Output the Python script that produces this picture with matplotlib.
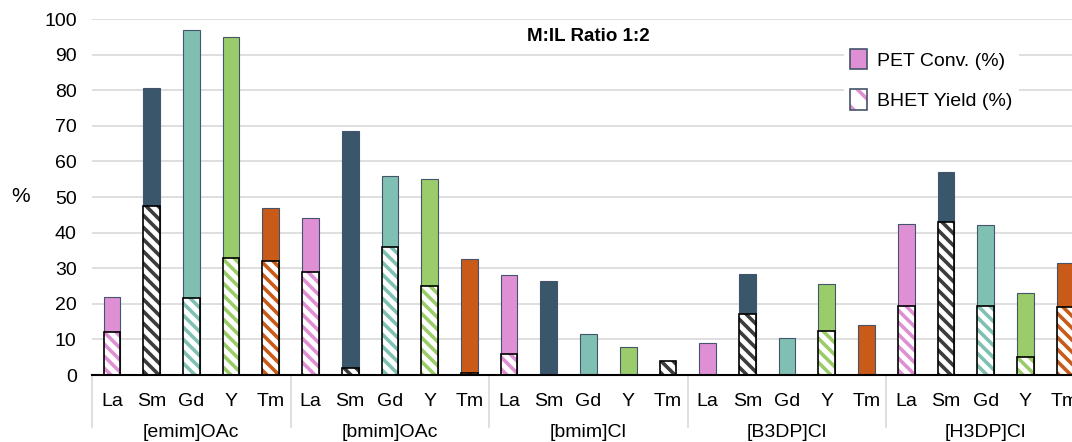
import numpy as np
import matplotlib.pyplot as plt
import matplotlib.transforms as mtransforms
from matplotlib.patches import Patch
from matplotlib.legend_handler import HandlerTuple

# drawn at 72 dpi so that the hatch spacing matches the original; sizes scaled to match
DPI = 72
S = 100 / DPI

plt.rcParams['font.family'] = ['Liberation Sans', 'DejaVu Sans']
plt.rcParams['hatch.linewidth'] = 2.6 * S

ionic_liquids = ['[emim]OAc', '[bmim]OAc', '[bmim]Cl', '[B3DP]Cl', '[H3DP]Cl']
metals = ['La', 'Sm', 'Gd', 'Y', 'Tm']

# PET conversion (%) per ionic liquid, metals in order La, Sm, Gd, Y, Tm
pet_conv = [
    [22, 80.5, 97, 95, 47],
    [44, 68.5, 56, 55, 32.5],
    [28, 26.5, 11.5, 8, 4],
    [9, 28.5, 10.5, 25.5, 14],
    [42.5, 57, 42, 23, 31.5],
]
# BHET yield (%)
bhet_yield = [
    [12, 47.5, 21.5, 33, 32],
    [29, 2, 36, 25, 0.5],
    [6, 0, 0, 0, 4],
    [0, 17, 0, 12.5, 0],
    [19.5, 43, 19.5, 5, 19],
]

metal_colors = {'La': '#DF90D5', 'Sm': '#3A566B', 'Gd': '#80C0B2', 'Y': '#9BCC6B', 'Tm': '#C95A17'}
hatch_dark = '#3C3C3C'
hatch = '\\\\'

fig = plt.figure(figsize=(1072 / DPI, 442 / DPI), dpi=DPI)
ax = fig.add_axes([92 / 1072, 67 / 442, 993 / 1072, 356 / 442])

n_metals = len(metals)
width = 0.42
for g, il in enumerate(ionic_liquids):
    for m, metal in enumerate(metals):
        x = g * n_metals + m
        pet = pet_conv[g][m]
        bhet = bhet_yield[g][m]
        col = metal_colors[metal]
        hcol = hatch_dark if metal == 'Sm' else col
        if pet > bhet:
            ax.bar(x, pet, width, color=col, edgecolor='#44546A', linewidth=0.8 * S, zorder=2)
        elif metal == 'Tm':
            hcol = hatch_dark
        if bhet > 0:
            ax.bar(x, bhet, width, color='white', edgecolor=hcol, linewidth=0,
                   hatch=hatch, zorder=3)
            ax.bar(x, bhet, width, fill=False, edgecolor='black', linewidth=1.2 * S, zorder=4)

n_bars = len(ionic_liquids) * n_metals
ax.set_xlim(-0.5, n_bars - 0.5)
ax.set_ylim(0, 100)
ax.set_yticks(np.arange(0, 101, 10))
ax.yaxis.grid(True, color='#D9D9D9', linewidth=1.2 * S, zorder=0)
ax.set_axisbelow(True)
for side in ['left', 'right', 'top']:
    ax.spines[side].set_visible(False)
ax.spines['bottom'].set_linewidth(1.5 * S)
ax.spines['bottom'].set_color('black')
ax.spines['bottom'].set_zorder(5)

ax.set_xticks(np.arange(n_bars))
ax.set_xticklabels(metals * len(ionic_liquids), fontsize=14 * S)
ax.tick_params(axis='x', length=0, pad=13 * S)
ax.tick_params(axis='y', length=0, labelsize=14 * S, pad=11 * S)
fig.text(21 / 1072, 1 - 197 / 442, '%', fontsize=15 * S, ha='center', va='center')

trans = mtransforms.blended_transform_factory(ax.transData, ax.transAxes)
for g in range(len(ionic_liquids) + 1):
    xs = g * n_metals - 0.5
    ax.plot([xs, xs], [0, -0.145], transform=trans, color='#D9D9D9', linewidth=1.2 * S,
            clip_on=False)
for g, il in enumerate(ionic_liquids):
    ax.text(g * n_metals + 2, -0.162, il, transform=trans, ha='center', va='center',
            fontsize=14 * S)

ax.text(0.5, 0.952, 'M:IL Ratio 1:2', transform=ax.transAxes, ha='center', va='center',
        fontsize=13.5 * S, fontweight='bold')

pet_handle = Patch(facecolor=metal_colors['La'], edgecolor='#44546A', linewidth=1.2 * S)
bhet_handle = (Patch(facecolor='white', edgecolor=metal_colors['La'], hatch='\\', linewidth=0),
               Patch(fill=False, edgecolor='#44546A', linewidth=1.2 * S))
leg = ax.legend([pet_handle, bhet_handle], ['PET Conv. (%)', 'BHET Yield (%)'],
                handler_map={tuple: HandlerTuple(ndivide=1, pad=0)},
                loc='upper left', bbox_to_anchor=(0.748, 0.96),
                frameon=True, fontsize=14 * S, labelspacing=1.0, handlelength=0.85,
                handleheight=1.25, handletextpad=0.5, borderpad=0.3)
leg.get_frame().set_edgecolor('white')
leg.get_frame().set_facecolor('white')
leg.get_frame().set_alpha(1)

fig.savefig('out.png', dpi=DPI)
